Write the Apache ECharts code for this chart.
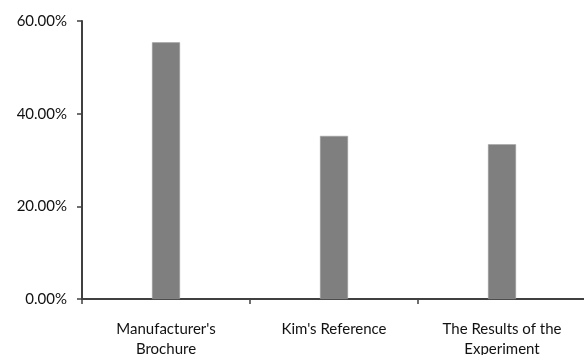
<!DOCTYPE html>
<html>
<head>
<meta charset="utf-8">
<script src="https://cdn.jsdelivr.net/npm/echarts@6/dist/echarts.min.js"></script>
<style>
  html, body { margin: 0; padding: 0; background: #fff; }
  #main { width: 584px; height: 355px; }
</style>
</head>
<body>
<div id="main"></div>
<script>
// 数据
var categories = ["Manufacturer's\nBrochure", "Kim's Reference", "The Results of the\nExperiment"];
var values = [55.4, 35.2, 33.4];
var yTicks = [0, 20, 40, 60];

var chart = echarts.init(document.getElementById('main'));

var option = {
  animation: false,
  // 不让 grid 为了容纳标签而自动缩小
  grid: { left: 82, top: 21, width: 504, height: 278, outerBoundsMode: 'none', containLabel: false },
  xAxis: {
    type: 'category',
    data: categories,
    axisLine: { lineStyle: { color: '#404040', width: 2 } },
    axisTick: { show: true, length: 5, lineStyle: { color: '#404040', width: 1.5 } },
    axisLabel: {
      interval: 0,
      margin: 20,
      color: '#111',
      fontFamily: 'Lato',
      fontSize: 15,
      lineHeight: 20
    }
  },
  yAxis: {
    type: 'value',
    min: yTicks[0],
    max: yTicks[yTicks.length - 1],
    interval: 20,
    splitLine: { show: false },
    axisLine: { show: true, lineStyle: { color: '#404040', width: 2 } },
    axisTick: { show: true, length: 5, lineStyle: { color: '#404040', width: 1.5 } },
    axisLabel: {
      margin: 15,
      color: '#111',
      fontFamily: 'Lato',
      fontSize: 15,
      formatter: function (v) { return v.toFixed(2) + '%'; }
    }
  },
  series: [{
    type: 'bar',
    data: values,
    barWidth: 28,
    itemStyle: { color: '#7f7f7f', borderColor: '#a0a0a0', borderWidth: 0.5 }
  }]
};

chart.setOption(option);
</script>
</body>
</html>
